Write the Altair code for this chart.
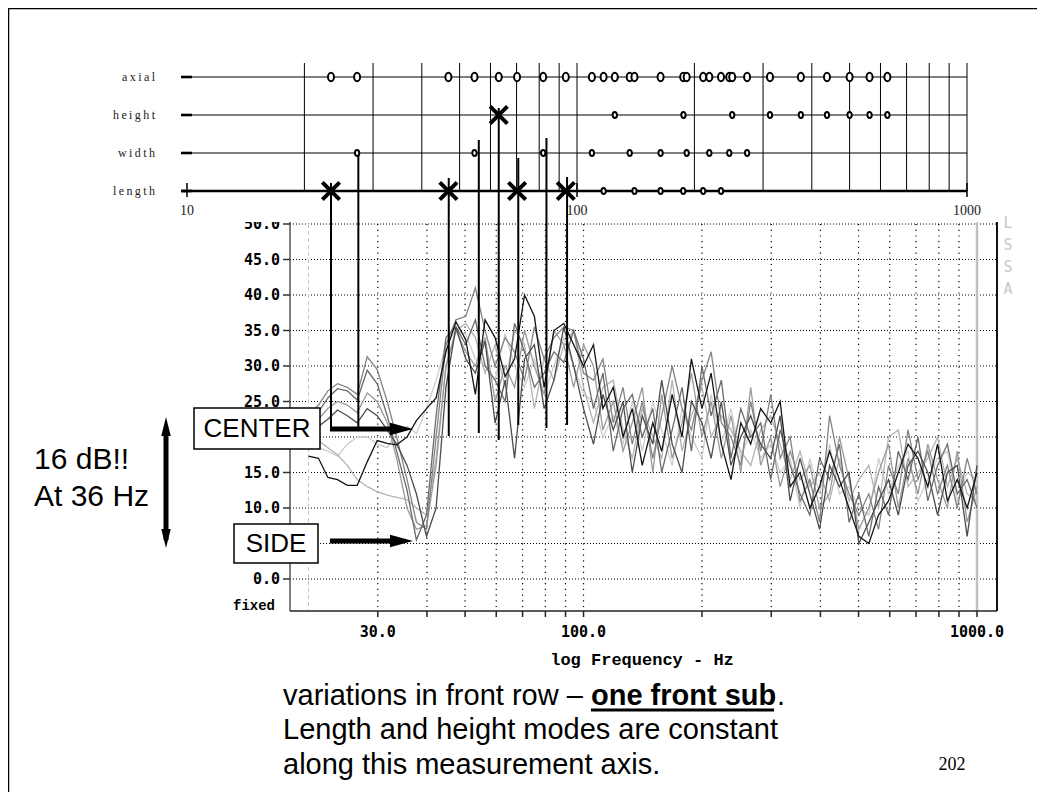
import altair as alt
import pandas as pd

# ---------------------------------------------------------------- data
FREQ = [20.0, 21.2, 22.4, 23.7, 25.1, 26.6, 28.2, 29.9, 31.7, 33.5,
        35.6, 37.6, 39.9, 42.2, 44.7, 47.4, 50.2, 53.1, 56.2, 59.6,
        63.2, 66.8, 70.8, 75.0, 79.4, 84.1, 89.1, 94.4, 100.0,
        106, 112, 119, 126, 133, 141, 150, 158, 168, 178,
        188, 200, 211, 224, 237, 251, 266, 282, 299, 316,
        335, 355, 376, 398, 422, 447, 473, 501, 531, 562,
        596, 631, 668, 708, 750, 794, 841, 891, 944, 1000]

DB_E = [19.5, 18.5, 18, 17.3, 19, 20, 20, 19, 18.5, 20.5, 21.5, 20.5, 24, 28, 33,
        35, 34.5, 31, 30, 28, 34.6, 30, 27, 31, 26, 30, 34, 30, 26,
        25, 20, 23, 19, 25, 18, 25, 21, 16, 24, 20, 17, 26, 19, 24, 17, 21, 17, 19, 15,
        17, 10, 17, 12, 19, 12, 13, 10, 9, 17, 12, 16, 18, 11, 14, 17, 18, 11, 15, 14]
DB_F = [20.5, 19.5, 18.5, 17.5, 16, 14, 13, 12.3, 11.8, 11.5, 11.2, 10, 9, 17, 30,
        35, 36, 34, 29, 33, 27, 35, 33, 24, 31, 28, 33, 35, 27,
        22, 27, 28, 21, 17, 24, 20, 17, 28, 18, 23, 27, 20, 23, 21, 18, 16, 21, 23, 19,
        14, 18, 13, 15, 11, 17, 11, 14, 16, 10, 20, 21, 13, 15, 17, 20, 13, 17, 12, 11]
DB_C = [21.5, 22.5, 24, 25, 24.5, 23.4, 26.2, 25, 22, 17, 10, 7, 7.5, 16, 30,
        35, 32, 30, 34, 25, 30, 27, 35, 30, 26, 35, 33, 27, 33,
        30, 21, 25, 18, 22, 27, 15, 26, 17, 22, 29, 20, 25, 17, 23, 15, 27, 16, 20, 13,
        18, 14, 16, 10, 12, 20, 14, 7, 10, 15, 19, 10, 17, 12, 19, 14, 10, 18, 8, 13]
DB_A = [23, 24.5, 26.5, 27.5, 27, 26, 31.3, 29.5, 25, 20, 14, 8, 7, 20, 33,
        36.5, 37, 41, 35, 30, 34, 32, 28, 35.5, 31, 34, 35.5, 35, 29,
        28, 31, 22, 27, 19, 25, 17, 23, 30, 24, 21, 28, 32, 22, 20, 16, 25, 18, 26, 17,
        20, 11, 14, 8, 23, 16, 12, 9, 12, 7, 16, 12, 21, 14, 18, 12, 16, 10, 17, 12]
DB_B = [22.5, 23.5, 25.5, 26.8, 26.5, 25.2, 29.4, 27.5, 23, 18, 12.5, 5.5, 9, 23, 34,
        35.5, 33, 36.5, 30, 28, 25, 36, 32, 27, 29, 32, 30.5, 35, 31,
        24, 29, 18, 24, 26, 20, 24, 15, 21, 27, 18, 30, 23, 28, 17, 24, 20, 22, 14, 21,
        16, 12, 9, 17, 14, 19, 8, 12, 6, 13, 9, 18, 14, 20, 11, 16, 19, 12, 14, 10]
DB_D = [21, 21.5, 22.5, 23.8, 23, 22, 24, 23, 21, 19, 16, 12, 6, 10, 27,
        35.5, 31, 29, 33.5, 22, 28, 17, 31, 33, 24, 28, 35.5, 30, 24,
        19, 26, 21, 25, 15, 23, 19, 28, 19, 15, 25, 22, 17, 25, 16, 20, 23, 19, 17, 23,
        11, 17, 12, 7, 16, 13, 15, 5, 8, 11, 14, 9, 16, 18, 15, 9, 15, 16, 6, 16]
DB_K = [17.3, 17.0, 14.3, 14.0, 13.2, 13.2, 16.5, 19.5, 19.1, 18.9, 20.0, 22.3, 24.0, 25.5, 32.0,
        36.2, 33.7, 26.0, 36.5, 34.0, 28.5, 31.0, 40.0, 37.0, 27.0, 35.0, 36.0, 33.0, 30.0,
        33, 24, 27, 20, 24, 16, 22, 18, 26, 20, 31, 24, 29, 19, 14, 22, 19, 24, 22, 25,
        13, 15, 10, 13, 18, 14, 10, 6, 5, 9, 11, 15, 19, 17, 13, 19, 11, 14, 10, 15]

CURVE_NAMES = ["E", "F", "C", "A", "B", "D", "K"]
CURVE_VALUES = [DB_E, DB_F, DB_C, DB_A, DB_B, DB_D, DB_K]
CURVE_COLORS = ["#cdcdcd", "#b3b3b3", "#999999", "#838383", "#6a6a6a", "#4c4c4c", "#141414"]

ROWS = ["axial", "height", "width", "length"]
ROW_LABELS = ["a\u2009x\u2009i\u2009a\u2009l", "h\u2009e\u2009i\u2009g\u2009h\u2009t",
              "w\u2009i\u2009d\u2009t\u2009h", "l\u2009e\u2009n\u2009g\u2009t\u2009h"]

LENGTH_MODES = [23.4, 46.8, 70.2, 93.6, 117.0, 140.4, 163.8, 187.2, 210.6, 234.0]
WIDTH_MODES = [27.3, 54.6, 81.9, 109.2, 136.5, 163.8, 191.1, 218.4, 245.7, 273.0]
HEIGHT_MODES = [63.0, 125.0, 187.5, 250.0, 312.5, 375.0, 437.5, 500.0, 562.5, 625.0]
AXIAL_MODES = [23.4, 27.3, 46.8, 54.6, 63.0, 70.2, 81.9, 93.6, 109.2, 117.0, 125.0,
               136.5, 140.4, 163.8, 187.2, 191.1, 210.6, 218.4, 234.0, 245.7, 250.0,
               273.0, 312.5, 375.0, 437.5, 500.0, 562.5, 625.0]
MARKED_ROWS = ["length", "length", "length", "length", "height"]
MARKED_FREQS = [23.4, 46.8, 70.2, 93.6, 63.0]
MODE_LINE_FREQS = [23.4, 27.5, 46.9, 56.0, 63.0, 70.7, 83.5, 94.3]

TOP_GRID = [20, 30, 40, 50, 60, 70, 80, 90, 100, 200, 300, 400, 500, 600, 700, 800, 900, 1000]
TOP_DECADES = [10, 100, 1000]

DB_TICKS = [0, 5, 10, 15, 20, 25, 30, 35, 40, 45, 50]
DB_LABELS = [0, 10, 15, 25, 30, 35, 40, 45, 50]   # 5 and 20 sit under the SIDE / CENTER boxes
MAIN_VGRID = [30, 40, 50, 60, 70, 80, 90, 100, 200, 300, 400, 500, 600, 700, 800, 900]
MAIN_XTICKS = MAIN_VGRID + [1000]
MAIN_XLABELS = [30, 100, 1000]

# ---------------------------------------------------------------- layout (chart px)
MODE_LINE_TOP = [175, 142, 170, 132, 100, 150, 130, 169]
MODE_LINE_BOTTOM = [420, 420, 428, 425, 432, 417, 420, 417]

MAIN_X = alt.Scale(type="log", domain=[20, 1000], range=[300.5, 969], nice=False)
MAIN_Y = alt.Scale(type="linear", domain=[0, 50], range=[571, 216], nice=False, zero=False)
TOP_X = alt.Scale(type="log", domain=[10, 1000], range=[179, 959], nice=False)
ROW_Y = alt.Scale(type="point", domain=ROWS, range=[69, 183], padding=0)

ONE = pd.DataFrame({"k": [0]})
MONO = "DejaVu Sans Mono"
SANS = "Liberation Sans"
SERIF = "Liberation Serif"
BODY = 29

layers = []


def prule(x1, y1, x2, y2, color="black", width=1.0, dash=None):
    kw = dict(color=color, strokeWidth=width)
    if dash:
        kw["strokeDash"] = dash
    return alt.Chart(ONE).mark_rule(**kw).encode(
        x=alt.value(x1), y=alt.value(y1), x2=alt.value(x2), y2=alt.value(y2))


def ptext(x, y, text, size, font=SANS, weight="normal", align="left", color="black", **kw):
    return alt.Chart(ONE).mark_text(
        fontSize=size, font=font, fontWeight=weight, align=align, baseline="middle",
        color=color, **kw).encode(x=alt.value(x), y=alt.value(y), text=alt.value(text))


def prect(x1, y1, x2, y2, fill="white", stroke="black", width=1.5):
    return alt.Chart(ONE).mark_rect(fill=fill, stroke=stroke, strokeWidth=width).encode(
        x=alt.value(x1), y=alt.value(y1), x2=alt.value(x2), y2=alt.value(y2))


def phead(x, y, path, size):
    return alt.Chart(ONE).mark_point(shape=path, size=size, filled=True, color="black",
                                     opacity=1, strokeWidth=0).encode(
        x=alt.value(x), y=alt.value(y))


# slide frame
layers.append(alt.Chart(ONE).mark_rect(fill="white", stroke="black", strokeWidth=2.5).encode(
    x=alt.value(0), y=alt.value(0), x2=alt.value(1031), y2=alt.value(830)))

# ---------------- main response chart
hgrid = pd.DataFrame({"db": DB_TICKS})
vgrid = pd.DataFrame({"f": MAIN_VGRID})
layers.append(alt.Chart(hgrid).mark_rule(color="black", strokeWidth=1, strokeDash=[1, 2]).encode(
    y=alt.Y("db:Q", scale=MAIN_Y, axis=None), x=alt.value(282), x2=alt.value(989)))
layers.append(alt.Chart(vgrid).mark_rule(color="black", strokeWidth=1.2, strokeDash=[1.2, 4.5]).encode(
    x=alt.X("f:Q", scale=MAIN_X, axis=None), y=alt.value(216), y2=alt.value(603)))
layers.append(alt.Chart(pd.DataFrame({"f": [20]})).mark_rule(
    color="#c4c4c4", strokeWidth=1, strokeDash=[4, 3]).encode(
    x=alt.X("f:Q", scale=MAIN_X, axis=None), y=alt.value(216), y2=alt.value(603)))
layers.append(alt.Chart(pd.DataFrame({"f": [1000]})).mark_rule(
    color="#c0c0c0", strokeWidth=2.5).encode(
    x=alt.X("f:Q", scale=MAIN_X, axis=None), y=alt.value(214), y2=alt.value(603)))

for name, vals, col in zip(CURVE_NAMES, CURVE_VALUES, CURVE_COLORS):
    d = pd.DataFrame({"f": FREQ, "db": vals})
    layers.append(alt.Chart(d).mark_line(color=col, strokeWidth=1.3).encode(
        x=alt.X("f:Q", scale=MAIN_X, axis=None),
        y=alt.Y("db:Q", scale=MAIN_Y, axis=None)))

# frame of the plot
layers.append(prule(282, 214, 282, 603, color="#555555", width=1.5))
layers.append(prule(989, 214, 989, 603, color="#111111", width=2))
layers.append(prule(282, 603, 989, 603, color="#222222", width=1.5))
layers.append(alt.Chart(hgrid).mark_rule(color="#333333", strokeWidth=1.5).encode(
    y=alt.Y("db:Q", scale=MAIN_Y, axis=None), x=alt.value(275), x2=alt.value(282)))
layers.append(alt.Chart(pd.DataFrame({"f": MAIN_XTICKS})).mark_rule(
    color="#222222", strokeWidth=1.5).encode(
    x=alt.X("f:Q", scale=MAIN_X, axis=None), y=alt.value(603), y2=alt.value(609)))
layers.append(alt.Chart(pd.DataFrame({"db": DB_LABELS})).mark_text(
    font=MONO, fontWeight="bold", fontSize=15, align="right", baseline="middle").encode(
    y=alt.Y("db:Q", scale=MAIN_Y, axis=None), x=alt.value(272),
    text=alt.Text("db:Q", format=".1f")))
layers.append(alt.Chart(pd.DataFrame({"f": MAIN_XLABELS})).mark_text(
    font=MONO, fontWeight="bold", fontSize=15, align="center", baseline="middle").encode(
    x=alt.X("f:Q", scale=MAIN_X, axis=None), y=alt.value(624),
    text=alt.Text("f:Q", format=".1f")))
layers.append(ptext(634, 652, "log Frequency - Hz", 17, font="Liberation Mono", weight="bold", align="center"))
layers.append(ptext(267, 598, "fixed", 14, font="Liberation Mono", weight="bold", align="right"))
layers.append(alt.Chart(ONE).mark_text(
    font=MONO, fontSize=15, color="#c8c8c8", align="center", baseline="top", lineHeight=22).encode(
    x=alt.value(1000), y=alt.value(208), text=alt.value(["L", "S", "S", "A"])))

# white background of the pasted mode chart
layers.append(prect(162, 40, 992, 214, fill="white", stroke="white", width=0))

# ---------------- mode chart
layers.append(alt.Chart(pd.DataFrame({"f": TOP_GRID})).mark_rule(color="black", strokeWidth=1).encode(
    x=alt.X("f:Q", scale=TOP_X, axis=None), y=alt.value(55), y2=alt.value(183)))
layers.append(alt.Chart(pd.DataFrame({"f": TOP_DECADES})).mark_rule(color="black", strokeWidth=1.5).encode(
    x=alt.X("f:Q", scale=TOP_X, axis=None), y=alt.value(175), y2=alt.value(189)))
rows_df = pd.DataFrame({"row": ROWS, "label": ROW_LABELS})
layers.append(alt.Chart(rows_df[rows_df.row != "length"]).mark_rule(color="black", strokeWidth=1.2).encode(
    y=alt.Y("row:N", scale=ROW_Y, axis=None), x=alt.value(173), x2=alt.value(959)))
layers.append(alt.Chart(rows_df[rows_df.row == "length"]).mark_rule(color="black", strokeWidth=2.6).encode(
    y=alt.Y("row:N", scale=ROW_Y, axis=None), x=alt.value(173), x2=alt.value(959)))
layers.append(alt.Chart(rows_df).mark_rule(color="black", strokeWidth=2.6).encode(
    y=alt.Y("row:N", scale=ROW_Y, axis=None), x=alt.value(173), x2=alt.value(184)))
layers.append(alt.Chart(rows_df).mark_text(
    font=SERIF, fontSize=12, align="right", baseline="middle", color="#222222").encode(
    y=alt.Y("row:N", scale=ROW_Y, axis=None), x=alt.value(147), text="label:N"))
layers.append(alt.Chart(pd.DataFrame({"f": TOP_DECADES, "t": ["10", "100", "1000"]})).mark_text(
    font=SERIF, fontSize=14, align="center", baseline="middle", color="#222222").encode(
    x=alt.X("f:Q", scale=TOP_X, axis=None), y=alt.value(203), text="t:N"))

# lines from the modes down into the response
for f, t, b in zip(MODE_LINE_FREQS, MODE_LINE_TOP, MODE_LINE_BOTTOM):
    layers.append(alt.Chart(pd.DataFrame({"f": [f]})).mark_rule(color="black", strokeWidth=2).encode(
        x=alt.X("f:Q", scale=TOP_X, axis=None), y=alt.value(t), y2=alt.value(b)))

ELLIPSE = "M0,-1A0.72,1,0,1,1,0,1A0.72,1,0,1,1,0,-1Z"
axial_df = pd.DataFrame({"row": "axial", "f": AXIAL_MODES})
other_df = pd.concat([
    pd.DataFrame({"row": "height", "f": HEIGHT_MODES[1:]}),
    pd.DataFrame({"row": "width", "f": WIDTH_MODES}),
    pd.DataFrame({"row": "length", "f": LENGTH_MODES[4:]}),
])
layers.append(alt.Chart(axial_df).mark_point(
    shape=ELLIPSE, size=70, filled=True, fill="white", stroke="black", strokeWidth=2, opacity=1).encode(
    x=alt.X("f:Q", scale=TOP_X, axis=None), y=alt.Y("row:N", scale=ROW_Y, axis=None)))
layers.append(alt.Chart(other_df).mark_point(
    shape=ELLIPSE, size=36, filled=True, fill="white", stroke="black", strokeWidth=2, opacity=1).encode(
    x=alt.X("f:Q", scale=TOP_X, axis=None), y=alt.Y("row:N", scale=ROW_Y, axis=None)))
layers.append(alt.Chart(pd.DataFrame({"row": MARKED_ROWS, "f": MARKED_FREQS})).mark_point(
    shape="M-1,-1L1,1M1,-1L-1,1", size=300, filled=False, color="black", strokeWidth=4, opacity=1).encode(
    x=alt.X("f:Q", scale=TOP_X, axis=None), y=alt.Y("row:N", scale=ROW_Y, axis=None)))

# ---------------- annotations
layers.append(prect(186, 400, 312, 441))
layers.append(ptext(249, 421, "CENTER", 26, align="center"))
layers.append(prect(226, 516, 310, 555))
layers.append(ptext(268, 536, "SIDE", 26, align="center"))
RIGHT_HEAD = "M-1,-0.55L1,0L-1,0.55Z"
layers.append(prule(322, 421, 386, 421, width=5))
layers.append(phead(393.5, 421, RIGHT_HEAD, 529))
layers.append(prule(322, 533, 386, 533, width=5))
layers.append(phead(393.5, 533, RIGHT_HEAD, 529))
layers.append(prule(158, 425, 158, 532, width=5))
layers.append(phead(158, 418.5, "M0,-1L0.5,1L-0.5,1Z", 361))
layers.append(phead(158, 530.5, "M0,1L0.5,-1L-0.5,-1Z", 361))
layers.append(ptext(26, 452, "16 dB!!", 30))
layers.append(ptext(26, 489, "At 36 Hz", 30))

layers.append(ptext(275, 688, "variations in front row \u2013 ", BODY))
layers.append(ptext(583, 688, "one front sub", BODY, weight="bold"))
layers.append(ptext(769, 688, ".", BODY))
layers.append(prule(583, 702, 766, 702, width=3))
layers.append(ptext(275, 722, "Length and height modes are constant", BODY))
layers.append(ptext(275, 757, "along this measurement axis.", BODY))
layers.append(ptext(944, 757, "202", 18, font=SERIF, align="center"))

chart = alt.layer(*layers).resolve_scale(
    x="independent", y="independent"
).properties(
    width=1029, height=784, padding=0,
    autosize=alt.AutoSizeParams(type="none"), background="white"
).configure_view(stroke=None)

chart.save("out.html", embed_options={"renderer": "svg", "actions": False})
